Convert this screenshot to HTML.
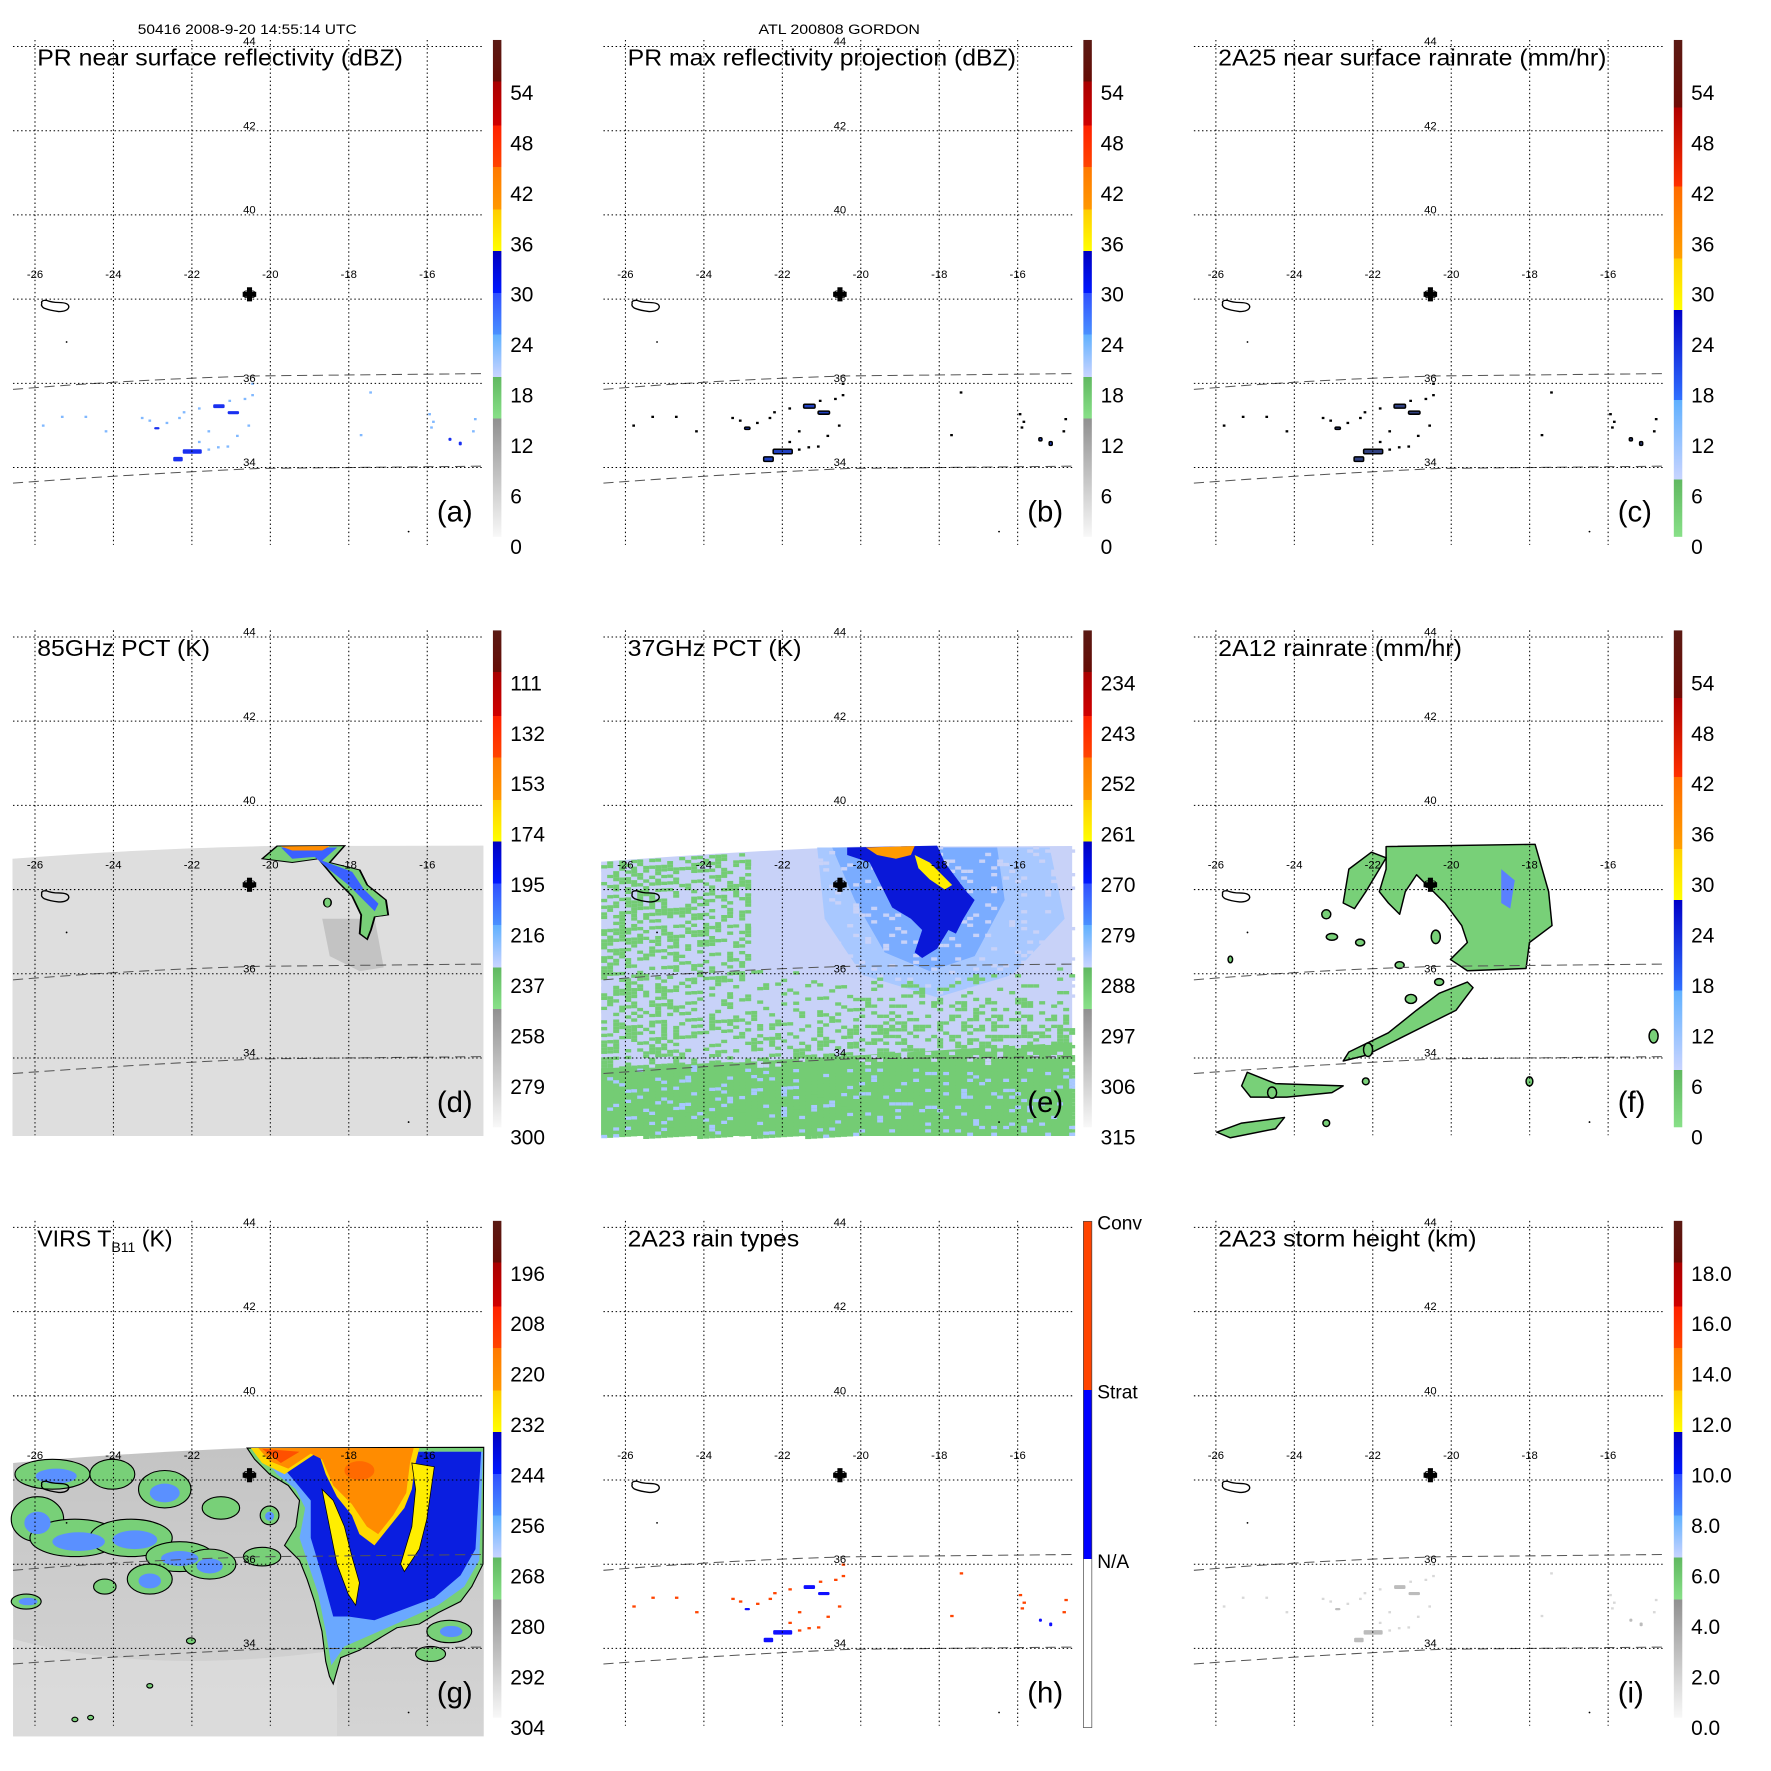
<!DOCTYPE html>
<html><head><meta charset="utf-8"><style>
html,body{margin:0;padding:0;background:#fff;}
svg{display:block;font-family:"Liberation Sans",Arial,sans-serif;}
</style></head><body>
<svg id="s" xmlns="http://www.w3.org/2000/svg" width="1771" height="1771" viewBox="0 0 1569 1569">
<defs>
<linearGradient id="gStd" x1="0" y1="0" x2="0" y2="1">
<stop offset="0" stop-color="#5a1a14"/><stop offset="0.084" stop-color="#660c06"/>
<stop offset="0.084" stop-color="#a80000"/><stop offset="0.172" stop-color="#d00000"/>
<stop offset="0.172" stop-color="#ff2000"/><stop offset="0.256" stop-color="#ff4400"/>
<stop offset="0.256" stop-color="#ff7800"/><stop offset="0.341" stop-color="#ff9800"/>
<stop offset="0.341" stop-color="#ffcc00"/><stop offset="0.425" stop-color="#ffff00"/>
<stop offset="0.425" stop-color="#0000c0"/><stop offset="0.509" stop-color="#0018ff"/>
<stop offset="0.509" stop-color="#3050ff"/><stop offset="0.593" stop-color="#4a90ff"/>
<stop offset="0.593" stop-color="#60b0ff"/><stop offset="0.678" stop-color="#c8d4ff"/>
<stop offset="0.678" stop-color="#60b860"/><stop offset="0.762" stop-color="#88e088"/>
<stop offset="0.762" stop-color="#909090"/><stop offset="1" stop-color="#f8f8f8"/>
</linearGradient>
<linearGradient id="gRain" x1="0" y1="0" x2="0" y2="1">
<stop offset="0" stop-color="#5a1a14"/><stop offset="0.136" stop-color="#700c06"/>
<stop offset="0.136" stop-color="#b00000"/><stop offset="0.295" stop-color="#ff3000"/>
<stop offset="0.295" stop-color="#ff6a00"/><stop offset="0.44" stop-color="#ffa000"/>
<stop offset="0.44" stop-color="#ffd000"/><stop offset="0.543" stop-color="#ffff00"/>
<stop offset="0.543" stop-color="#0000c8"/><stop offset="0.725" stop-color="#3070ff"/>
<stop offset="0.725" stop-color="#60b0ff"/><stop offset="0.885" stop-color="#c8d4ff"/>
<stop offset="0.885" stop-color="#60b860"/><stop offset="1" stop-color="#88e088"/>
</linearGradient>
<linearGradient id="gType" x1="0" y1="0" x2="0" y2="1">
<stop offset="0" stop-color="#ff4400"/><stop offset="0.333" stop-color="#ff4400"/>
<stop offset="0.333" stop-color="#0000ff"/><stop offset="0.667" stop-color="#0000ff"/>
<stop offset="0.667" stop-color="#ffffff"/><stop offset="1" stop-color="#ffffff"/>
</linearGradient>
<linearGradient id="gSw" x1="0" y1="0" x2="0" y2="1">
<stop offset="0" stop-color="#c4c4c4"/><stop offset="0.5" stop-color="#cdcdcd"/><stop offset="1" stop-color="#d4d4d4"/>
</linearGradient>
</defs>

<text x="122" y="30" font-size="12.5" textLength="194" lengthAdjust="spacingAndGlyphs">50416 2008-9-20 14:55:14 UTC</text>
<text x="672" y="30" font-size="12.5" textLength="143" lengthAdjust="spacingAndGlyphs">ATL 200808 GORDON</text>

<g transform="translate(-0.23,531.8) scale(0.6644,0.3319)">
  <path d="M17,690 Q200,662 360,656 L645,655 L645,1430 L17,1430 Z" fill="#dedede"/>
  <path d="M430,850 L500,850 L512,980 L480,990 L440,950 Z" fill="#b0b0b0" opacity="0.6"/>
  <path d="M350,690 L370,656 L460,655 L440,700 L480,720 L490,760 L515,800 L518,840 L500,845 L495,880 L490,905 L480,890 L482,840 L470,790 L450,750 L425,690 L390,700 Z" fill="#78d078" stroke="#000" stroke-width="2.5"/>
  <path d="M375,660 L450,660 L430,695 L470,725 L485,770 L505,810 L500,830 L485,800 L465,760 L440,720 L420,685 L390,690 Z" fill="#3a60ff"/>
  <path d="M375,657 L440,656 L430,668 L390,668 Z" fill="#ff8c00"/>
  <ellipse cx="437" cy="807" rx="5" ry="12" fill="#78d078" stroke="#000" stroke-width="2"/>
  <path d="M802,698 Q1000,668 1140,658 L1430,656 L1430,1430 L802,1430 Z" fill="#c8d2f8"/>
  <path d="M802,1250 L1100,1220 L1430,1180 L1430,1430 L802,1430 Z" fill="#74cc74"/>
  <path d="M1090,660 L1400,660 L1420,850 L1350,1000 L1250,1060 L1150,1000 L1100,850 Z" fill="#a8c8ff"/>
  <path d="M1110,660 L1330,660 L1340,800 L1300,950 L1240,990 L1180,940 L1140,800 Z" fill="#7aacff"/>
  <g id="eSpeck"></g>
  <path d="M1130,660 L1250,655 L1260,700 L1290,780 L1300,800 L1285,850 L1275,890 L1265,880 L1250,930 L1230,955 L1220,940 L1230,880 L1215,850 L1190,820 L1175,760 L1160,700 L1130,680 Z" fill="#0a18d8"/>
  <path d="M1155,660 L1220,656 L1215,680 L1195,690 L1170,680 Z" fill="#ff9a00"/>
  <path d="M1220,680 L1240,700 L1255,730 L1270,760 L1260,772 L1240,745 L1225,715 Z" fill="#ffee00"/>
</g>

<g fill="#78d078" stroke="#000" stroke-width="1.3" stroke-linejoin="round">
  <path d="M1228,750 L1360,748 L1372,790 L1375,820 L1355,835 L1352,858 L1300,860 L1285,850 L1300,835 L1295,820 L1280,800 L1265,785 L1255,775 L1245,790 L1240,810 L1230,800 L1222,790 L1228,770 Z"/>
  <path d="M1195,770 L1215,755 L1228,760 L1210,790 L1200,805 L1190,800 Z"/>
  <path d="M1305,875 L1290,895 L1270,905 L1240,920 L1210,935 L1190,940 L1195,932 L1230,915 L1255,895 L1275,880 L1300,870 Z"/>
  <path d="M1105,950 L1130,960 L1190,962 L1180,968 L1140,972 L1108,972 L1100,962 Z"/>
  <path d="M1078,1003 L1100,995 L1138,990 L1130,1000 L1090,1008 Z"/>
  <ellipse cx="1272" cy="830" rx="4" ry="6"/><ellipse cx="1250" cy="885" rx="5" ry="4"/>
  <ellipse cx="1212" cy="930" rx="4" ry="6"/><ellipse cx="1127" cy="968" rx="4" ry="5"/>
  <ellipse cx="1180" cy="830" rx="5" ry="3"/><ellipse cx="1205" cy="835" rx="4" ry="3"/>
  <ellipse cx="1240" cy="855" rx="4" ry="3"/><ellipse cx="1175" cy="995" rx="3" ry="3"/>
  <ellipse cx="1355" cy="958" rx="3" ry="4"/><ellipse cx="1465" cy="918" rx="4" ry="6"/>
  <ellipse cx="1210" cy="958" rx="3" ry="3"/><ellipse cx="1090" cy="850" rx="2" ry="3"/>
  <ellipse cx="1175" cy="810" rx="4" ry="4"/><ellipse cx="1275" cy="870" rx="4" ry="3"/>
</g>
<path d="M1330,770 L1342,780 L1338,805 L1330,800 Z" fill="#5a80ff"/>

<g transform="translate(0,1054) scale(0.3317)">
  <path d="M35,730 Q300,705 660,690 L1292,688 L1292,1460 L35,1460 Z" fill="url(#gSw)"/>
  <path d="M35,1200 Q400,1300 900,1230 L900,1460 L35,1460 Z" fill="#dedede" opacity="0.7"/>
  <g fill="#78d078" stroke="#000" stroke-width="3">
    <ellipse cx="140" cy="760" rx="100" ry="40"/><ellipse cx="300" cy="760" rx="60" ry="40"/>
    <ellipse cx="440" cy="800" rx="70" ry="50"/><ellipse cx="100" cy="880" rx="70" ry="60"/>
    <ellipse cx="200" cy="930" rx="120" ry="50"/><ellipse cx="350" cy="930" rx="110" ry="50"/>
    <ellipse cx="480" cy="980" rx="90" ry="40"/><ellipse cx="560" cy="1000" rx="70" ry="40"/>
    <ellipse cx="400" cy="1040" rx="60" ry="40"/><ellipse cx="280" cy="1060" rx="30" ry="20"/>
    <ellipse cx="70" cy="1100" rx="40" ry="20"/><ellipse cx="720" cy="870" rx="25" ry="25"/>
    <ellipse cx="700" cy="980" rx="50" ry="25"/><ellipse cx="590" cy="850" rx="50" ry="30"/>
    <ellipse cx="1200" cy="1180" rx="60" ry="30"/><ellipse cx="1240" cy="900" rx="40" ry="60"/>
    <ellipse cx="1150" cy="1240" rx="40" ry="20"/><ellipse cx="510" cy="1205" rx="12" ry="8"/>
    <ellipse cx="400" cy="1325" rx="8" ry="6"/><ellipse cx="200" cy="1415" rx="8" ry="6"/>
    <ellipse cx="242" cy="1410" rx="8" ry="6"/>
  </g>
  <g fill="#5a90ff">
    <ellipse cx="150" cy="765" rx="55" ry="20"/><ellipse cx="440" cy="810" rx="40" ry="25"/>
    <ellipse cx="100" cy="890" rx="35" ry="30"/><ellipse cx="210" cy="940" rx="70" ry="25"/>
    <ellipse cx="360" cy="935" rx="60" ry="25"/><ellipse cx="480" cy="985" rx="50" ry="20"/>
    <ellipse cx="400" cy="1045" rx="30" ry="20"/><ellipse cx="560" cy="1005" rx="35" ry="20"/>
    <ellipse cx="720" cy="872" rx="12" ry="12"/><ellipse cx="75" cy="1100" rx="25" ry="10"/>
    <ellipse cx="1205" cy="1180" rx="30" ry="15"/><ellipse cx="1240" cy="905" rx="20" ry="35"/>
  </g>
  <path d="M660,690 L680,720 L720,760 L770,790 L800,830 L790,900 L760,950 L800,990 L820,1040 L840,1100 L860,1180 L870,1260 L880,1300 L890,1320 L910,1250 L960,1230 L1010,1200 L1060,1170 L1120,1160 L1170,1130 L1230,1100 L1260,1060 L1290,1000 L1292,688 Z" fill="#78d078" stroke="#000" stroke-width="3"/>
  <path d="M690,700 L740,760 L790,800 L815,850 L800,930 L820,990 L850,1080 L870,1180 L885,1270 L920,1220 L1000,1185 L1080,1150 L1170,1110 L1240,1060 L1280,990 L1290,700 Z" fill="#6aa8ff"/>
  <path d="M720,700 L780,770 L830,830 L830,930 L860,1030 L890,1140 L930,1140 L1000,1150 L1080,1120 L1160,1090 L1230,1030 L1270,960 L1285,700 Z" fill="#0a1ee0"/>
  <path d="M670,690 L700,730 L760,760 L820,720 L850,700 L870,760 L900,820 L940,870 L960,920 L1000,950 L1040,900 L1080,850 L1100,800 L1110,730 L1120,690 Z" fill="#ffd800"/>
  <path d="M690,690 L720,725 L770,745 L830,705 L860,720 L890,790 L940,840 L980,900 L1010,920 L1050,870 L1085,810 L1095,730 L1105,690 Z" fill="#ff8c00"/>
  <path d="M700,692 L750,730 L800,700 Z" fill="#ff5000"/>
  <ellipse cx="960" cy="750" rx="40" ry="25" fill="#ff6a00"/>
  <path d="M860,800 L880,900 L900,1000 L930,1080 L950,1110 L960,1050 L940,980 L920,900 L890,830 Z" fill="#ffee00" stroke="#000" stroke-width="2"/>
  <path d="M1100,730 L1160,740 L1140,880 L1120,960 L1080,1020 L1070,1000 L1100,900 L1110,800 Z" fill="#ffee00" stroke="#000" stroke-width="2"/>
</g>

<g id="dyn"></g>
</svg>
<script>
(function(){
const NS='http://www.w3.org/2000/svg';
const dyn=document.getElementById('dyn');
function el(tag,a,p,t){const e=document.createElementNS(NS,tag);for(const k in a)e.setAttribute(k,a[k]);if(t!=null)e.textContent=t;(p||dyn).appendChild(e);return e;}
let seed=12345;function rnd(){seed=(seed*1103515245+12345)&0x7fffffff;return seed/0x7fffffff;}

const es=document.getElementById('eSpeck');
for(let x=802;x<1430;x+=8){
  const top=656+Math.max(0,1140-x)/338*42;
  for(let y=top;y<1430;y+=9){
    let p;
    if(y>1240) p=0.85;
    else if(x<1000) p=(y<950?0.55:0.45)*(x<900?1:0.7);
    else p=Math.max(0,(y-950)/300)*0.55;
    if(x>1110&&x<1340&&y<1000) p*=0.1;
    const r=rnd();
    if(r<p) el('rect',{x:x,y:y,width:8,height:9,fill:'#74cc74'},es);
    else if(r<p+0.12) el('rect',{x:x,y:y,width:8,height:9,fill:(y>1240?'#a8c8ff':'#c8d2f8')},es);
  }
}

const O=[0,523.1,1046.2];
const std=['54','48','42','36','30','24','18','12','6','0'];
const P=[
 {c:0,r:0,t:'PR near surface reflectivity (dBZ)',tw:324,l:'(a)',cb:std,g:'gStd',pr:'a'},
 {c:1,r:0,t:'PR max reflectivity projection (dBZ)',tw:344,l:'(b)',cb:std,g:'gStd',pr:'b'},
 {c:2,r:0,t:'2A25 near surface rainrate (mm/hr)',tw:344,l:'(c)',cb:std,g:'gRain',pr:'c'},
 {c:0,r:1,t:'85GHz PCT (K)',tw:153,l:'(d)',cb:['111','132','153','174','195','216','237','258','279','300'],g:'gStd'},
 {c:1,r:1,t:'37GHz PCT (K)',tw:154,l:'(e)',cb:['234','243','252','261','270','279','288','297','306','315'],g:'gStd'},
 {c:2,r:1,t:'2A12 rainrate (mm/hr)',tw:216,l:'(f)',cb:std,g:'gRain'},
 {c:0,r:2,t:null,l:'(g)',cb:['196','208','220','232','244','256','268','280','292','304'],g:'gStd'},
 {c:1,r:2,t:'2A23 rain types',tw:152,l:'(h)',cb:null,g:'gType',pr:'h'},
 {c:2,r:2,t:'2A23 storm height (km)',tw:229,l:'(i)',cb:['18.0','16.0','14.0','12.0','10.0','8.0','6.0','4.0','2.0','0.0'],g:'gStd',pr:'i'}
];
const big=[[560,1062,30,10],[598,1080,30,8],[455,1200,25,12],[480,1180,50,12],[405,1122,14,6],[1178,1150,8,8],[1205,1160,8,10]];
const small=[[110,1115],[160,1092],[222,1092],[390,1102],[435,1108],[468,1095],[545,1130],[520,1158],[600,1050],[640,1045],[660,1035],[650,1115],[620,1142],[595,1170],[570,1172],[545,1178],[945,1140],[1125,1085],[1130,1120],[1245,1098],[1240,1130],[1135,1105],[370,1095],[275,1130],[480,1080],[520,1070],[660,1005],[970,1028]];
P.forEach(p=>{
  const g=el('g',{transform:'translate('+O[p.c]+','+O[p.r]+')'});
  if(p.pr){
    const d=el('g',{transform:'scale('+(1/2.965)+')'},g);
    big.forEach(b=>{
      let f,s='none';
      if(p.pr=='a'){f='#1a30f0';}
      else if(p.pr=='b'){f='#2040c0';s='#000';}
      else if(p.pr=='c'){f='#304080';s='#000';}
      else if(p.pr=='h'){f='#1010ff';}
      else {f='#bcbcbc';}
      el('rect',{x:b[0],y:b[1],width:b[2],height:b[3],fill:f,stroke:s,'stroke-width':4,rx:3},d);
    });
    small.forEach(q=>{
      let f;
      if(p.pr=='a')f='#80b8ff';else if(p.pr=='b'||p.pr=='c')f='#000';else if(p.pr=='h')f='#ff4400';else f='#d8d8d8';
      el('rect',{x:q[0],y:q[1],width:(p.pr=='h'?9:7),height:6,fill:f},d);
    });
  }
  el('path',{d:'M11.5,345 Q120,336 230,333 L428,331',fill:'none',stroke:'#555','stroke-width':0.9,'stroke-dasharray':'9 5'},g);
  el('path',{d:'M11.5,428 Q120,420 230,415 L428,413',fill:'none',stroke:'#555','stroke-width':0.9,'stroke-dasharray':'9 5'},g);
  for(let k=0;k<6;k++){
    const x=31+69.5*k;
    el('line',{x1:x,y1:35.4,x2:x,y2:482.7,stroke:'#000','stroke-width':0.9,'stroke-dasharray':'1.3 2.3'},g);
    const y=41.2+74.6*k;
    el('line',{x1:11.5,y1:y,x2:428,y2:y,stroke:'#000','stroke-width':0.9,'stroke-dasharray':'1.3 2.3'},g);
    el('text',{x:x,y:246.5,'font-size':10,'text-anchor':'middle'},g,String(-26+2*k));
    el('text',{x:221,y:y-1.2,'font-size':10,'text-anchor':'middle'},g,String(44-2*k));
  }
  el('path',{d:'M37,269 Q36,266 41,266 Q46,268 52,268 Q61,268 61,272 Q60,276 52,276 Q44,275 39,273 Q36,271 37,269 Z',fill:'none',stroke:'#000','stroke-width':1.2},g);
  el('rect',{x:215,y:258.5,width:12,height:4.5,fill:'#000'},g);
  el('rect',{x:218.8,y:254.5,width:4.5,height:12.5,fill:'#000'},g);
  el('circle',{cx:59,cy:303,r:0.8,fill:'#000'},g);
  el('circle',{cx:362,cy:471,r:0.8,fill:'#000'},g);
  if(p.t){el('text',{x:33,y:58,'font-size':20.5,textLength:p.tw,lengthAdjust:'spacingAndGlyphs'},g,p.t);}
  else{
    const t=el('text',{x:33,y:58,'font-size':20.5},g,'VIRS T');
    el('tspan',{'font-size':12.5,dy:5},t,'B11');
    el('tspan',{dy:-5},t,' (K)');
  }
  el('text',{x:387,y:462,'font-size':26},g,p.l);
  if(p.cb){
    el('rect',{x:436.7,y:35.4,width:7.5,height:440.2,fill:'url(#'+p.g+')'},g);
    p.cb.forEach((s,i)=>{el('text',{x:452,y:82+44.7*i+6.5,'font-size':18.5},g,s);});
  } else {
    el('rect',{x:436.7,y:35.8,width:7.5,height:448.5,fill:'url(#gType)',stroke:'#444','stroke-width':0.6},g);
    el('text',{x:449,y:43,'font-size':17},g,'Conv');
    el('text',{x:449,y:193,'font-size':17},g,'Strat');
    el('text',{x:449,y:343,'font-size':17},g,'N/A');
  }
});
})();
</script>
</body></html>
